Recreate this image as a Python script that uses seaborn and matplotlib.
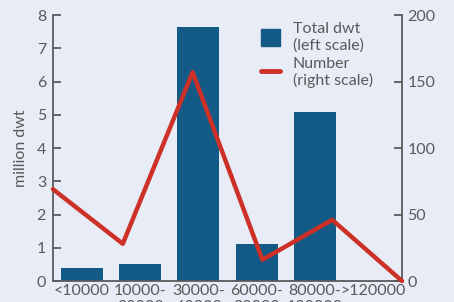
import numpy as np
import pandas as pd
import matplotlib
matplotlib.use("Agg")
import matplotlib.pyplot as plt
import seaborn as sns
from matplotlib.patches import Patch
from matplotlib.lines import Line2D

size_bands = ["<10000", "10000-\n30000", "30000-\n60000", "60000-\n80000",
              "80000-\n120000", ">120000"]
total_dwt = [0.38, 0.5, 7.65, 1.12, 5.07, 0.0]      # million dwt, left scale
ship_count = [69, 28, 157, 16, 46, 0]              # number, right scale

BG = "#e8ecf6"
BAR = "#135a87"
RED = "#cc3026"
GREY = "#5a5a5a"

sns.set_style("white", {"axes.facecolor": BG, "figure.facecolor": BG})
plt.rcParams["font.family"] = ["Lato", "DejaVu Sans"]
plt.rcParams["font.size"] = 11.5

df = pd.DataFrame({"band": size_bands, "dwt": total_dwt, "num": ship_count})

fig = plt.figure(figsize=(4.54, 3.02), dpi=100)
ax = fig.add_axes([0.1167, 0.0695, 0.7688, 0.8808])
sns.barplot(data=df, x="band", y="dwt", color=BAR, width=0.72, saturation=1,
            linewidth=0, ax=ax)
ax.set_ylim(0, 8)
ax.set_yticks(range(0, 9))
ax.set_xlabel("")
ax.set_ylabel("million dwt", color=GREY, labelpad=6)

ax2 = ax.twinx()
ax2.set_ylim(0, 200)
ax2.set_yticks([0, 50, 100, 150, 200])

# the line runs edge to edge, on its own x scale
line_ax = ax2.twiny()
sns.lineplot(x=np.arange(len(size_bands)), y=df["num"], color=RED, linewidth=3.2,
             ax=line_ax, clip_on=False)
line_ax.set_xlim(0, len(size_bands) - 1)
line_ax.set_ylim(0, 200)
line_ax.set_xticks([])
line_ax.set_xlabel("")
line_ax.set_ylabel("")
for s in line_ax.spines.values():
    s.set_visible(False)

for a in (ax, ax2):
    for s in a.spines.values():
        s.set_color(GREY)
        s.set_linewidth(1.3)
    a.spines["top"].set_visible(False)
ax.spines["right"].set_visible(False)
ax2.spines["left"].set_visible(False)
ax2.spines["bottom"].set_visible(False)

ax.tick_params(axis="y", direction="in", length=6, width=1.3, color=GREY,
               labelcolor=GREY, pad=5)
ax.tick_params(axis="x", length=0, labelcolor=GREY, pad=2.5)
ax2.tick_params(axis="y", direction="in", length=6, width=1.3, color=GREY,
                labelcolor=GREY, pad=4)
ax2.set_ylabel("")
for lab in ax.get_xticklabels():
    lab.set_linespacing(1.15)

handles = [Patch(color=BAR), Line2D([0], [0], color=RED, linewidth=3.5,
                                    solid_capstyle="round")]
fig.legend(handles, ["Total dwt\n(left scale)", "Number\n(right scale)"],
           loc="upper left", bbox_to_anchor=(0.543, 0.975), frameon=False,
           labelcolor=GREY, handlelength=1.2, handleheight=1.2, handletextpad=0.8,
           labelspacing=0.25, fontsize=11.5)

fig.savefig("out.png", dpi=100, facecolor=BG)
